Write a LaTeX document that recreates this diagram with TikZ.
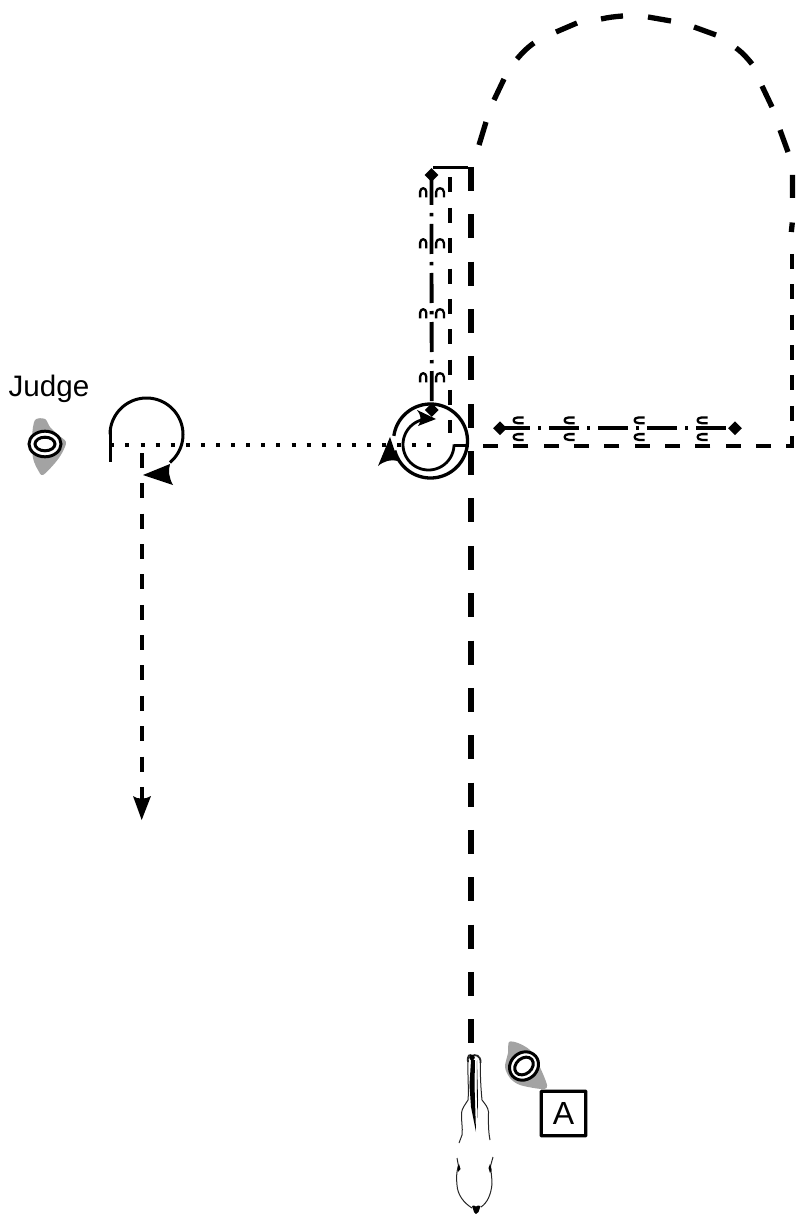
\documentclass[tikz,border=0pt]{standalone}
\usepackage{fontspec}
\setmainfont{Liberation Sans}
\usetikzlibrary{shapes.geometric}
\definecolor{blob}{HTML}{A3A3A3}
\tikzset{
  heavy/.style={line width=5.3pt,dash pattern=on 24pt off 23.35pt},
  arch/.style={line width=5.3pt},
  medium/.style={line width=4pt,dash pattern=on 15pt off 15.35pt},
  dashdot/.style={line width=3.8pt,dash pattern=on 30pt off 8pt on 3.4pt off 7.6pt},
  dotted line/.style={line width=4pt,dash pattern=on 4pt off 11.1pt},
  solidline/.style={line width=3.4pt},
  hoof/.style={draw=none,fill=black,diamond,inner sep=0pt,minimum width=14pt,minimum height=14pt},
  head/.style={fill=black,draw=none},
  hair/.style={line width=1pt,draw=black!85},
  shoe/.style={line width=2.3pt,line cap=butt,line join=round},
}
\newcommand{\shoedown}[3]{\draw[shoe] (#1-#3,#2+5.3) -- (#1-#3,#2) .. controls (#1-#3,#2-5) and (#1+#3,#2-5) .. (#1+#3,#2) -- (#1+#3,#2+5.3);}
\newcommand{\shoeright}[2]{\draw[shoe] (#1+5.5,#2-2.9) -- (#1,#2-2.9) .. controls (#1-6,#2-2.9) and (#1-6,#2+2.9) .. (#1,#2+2.9) -- (#1+5.5,#2+2.9);}
\begin{document}
\begin{tikzpicture}[x=1pt,y=-1pt]
\useasboundingbox (0,0) rectangle (795,1214);

% grey patches
\fill[blob] plot[smooth cycle,tension=0.5] coordinates {(35,420) (45,419) (50,427) (58,435) (66,442) (62,453) (55,463) (43,475) (38,470) (33,458) (32,437)};
\fill[blob] plot[smooth cycle,tension=0.5] coordinates {(509,1042) (518,1043) (530,1050) (538,1063) (547,1085) (542,1089) (520,1085) (510,1078) (505,1067) (508,1053)};
% people
\draw[line width=3pt,fill=white] (45,444) ellipse [x radius=16pt,y radius=12.8pt];
\draw[line width=3pt] (45,444) ellipse [x radius=10pt,y radius=6.8pt];
\draw[line width=3pt,fill=white,rotate around={40:(524,1066)}] (524,1066) ellipse [x radius=15.2pt,y radius=13.4pt];
\draw[line width=3pt,rotate around={40:(524,1066)}] (524,1066) ellipse [x radius=10.2pt,y radius=7.8pt];

\node[anchor=base,font=\fontsize{29.6}{29.6}\selectfont,inner sep=0pt] (judge) at (49,396) {Judge};
\node[draw,line width=3.2pt,minimum width=44.5pt,minimum height=44.5pt,inner sep=0pt,rounded corners=0.5pt,font=\fontsize{32}{32}\selectfont] (boxa) at (563.5,1113.5) {A};

% named points
\coordinate (hvtop) at (471,167);
\coordinate (hvbot) at (471,1043);
\coordinate (medtop) at (792,254);
\coordinate (medcorner) at (792,445.5);
\coordinate (medend) at (470,445.5);
\coordinate (thintop) at (450,177.5);
\coordinate (thinbot) at (450,433);
\coordinate (bartl) at (433,167.7);
\coordinate (bartr) at (468,167.7);
\coordinate (dotl) at (110.3,445.3);
\coordinate (dotr) at (431.5,445.3);
\coordinate (exittop) at (141.7,453);
\coordinate (exitbot) at (141.7,800);
\coordinate (exittip) at (141.7,820);
\coordinate (startl) at (110.5,428);
\coordinate (startlb) at (110.5,462);
\coordinate (join1) at (454,445.3);
\coordinate (join2) at (469,445.3);

\draw[heavy] (hvtop) -- (hvbot);
\draw[medium] (medtop) -- (medcorner) -- (medend);
\draw[medium] (thintop) -- (thinbot);
\draw[solidline] (bartl) -- (bartr);
\draw[dotted line] (dotl) -- (dotr);
\draw[medium] (exittop) -- (exitbot);
\draw[line width=3.8pt] (startl) -- (startlb);
\draw[solidline] (join1) -- (join2);

% arch
\draw[arch,line cap=butt]
  (479,145) -- (486,122)
  (494,100) -- (504,79)
  (517,59) .. controls (522,53) and (528,47) .. (534,43)
  (556,32) -- (577,23)
  (601,19) .. controls (608,17.5) and (615,16.5) .. (623,16)
  (648,17) -- (671,21)
  (694,27) -- (716,35)
  (736,48) .. controls (743,53) and (748,59) .. (752,64)
  (762,86) -- (772,107)
  (780,130) -- (788,152)
  (792.5,175) -- (792.5,198)
  (792.3,222.5) -- (791.3,232);

% dash-dot lines with diamonds
\node[hoof] (dtop) at (431.5,175) {};
\node[hoof] (dbot) at (431.7,410) {};
\node[hoof] (dleft) at (500,428.3) {};
\node[hoof] (dright) at (735,428.3) {};
\draw[dashdot] (dtop.center) -- (dbot.center);
\draw[dashdot] (dleft.center) -- (dright.center);

% horseshoes
\shoedown{423.2}{192}{3.1}\shoedown{440}{192}{3.9}
\shoedown{423.2}{243}{3.1}\shoedown{440}{243}{3.9}
\shoedown{423.2}{313}{3.1}\shoedown{440}{313}{3.9}
\shoedown{423.2}{377}{3.1}\shoedown{440}{377}{3.9}
\shoeright{518}{420.3}\shoeright{518}{437}
\shoeright{569}{420.3}\shoeright{569}{437}
\shoeright{639}{420.3}\shoeright{639}{437}
\shoeright{702}{420.3}\shoeright{702}{437}

% circles
\draw[line width=3.3pt,domain=0:165,samples=60,smooth] plot ({430.5+37*cos(\x)},{441+37*sin(\x)});
\draw[line width=3.3pt,domain=188:360,samples=60,smooth] plot ({430.5+37*cos(\x)},{441+37*sin(\x)});
\draw[line width=2.8pt,domain=0:262,samples=60,smooth] plot ({428.5+25.5*cos(\x)},{444.5+25.5*sin(\x)});
\draw[line width=3pt,domain=-180:50,samples=70,smooth] plot ({146.5+36.5*cos(\x)},{434.5+36.5*sin(\x)});

% arrowheads
\fill[head] (390,437) -- (378,466) .. controls (384,461) and (391,459) .. (398,461) -- cycle;
\fill[head] (436,419) -- (417,410) .. controls (421,415) and (422,420) .. (418,426) -- cycle;
\fill[head] (143,475) -- (170,464) .. controls (168,471) and (169,478) .. (173,485) -- cycle;
\fill[head] (exittip) -- (133,796) .. controls (137,799.5) and (146,799.5) .. (151,796) -- cycle;

% horse
\draw[hair] (468,1062) .. controls (467.5,1075) and (469,1090) .. (468,1100) .. controls (465,1105) and (462,1108) .. (461.5,1113) .. controls (461,1120) and (463,1128) .. (462,1135) -- (459,1143);
\draw[hair] (480.5,1062) .. controls (480,1075) and (481,1090) .. (482,1100) .. controls (485,1104) and (488,1107) .. (488.5,1112) .. controls (488.5,1120) and (488,1130) .. (490,1140);
\draw[hair] (457,1158) -- (458.5,1166) .. controls (456,1172) and (456.5,1180) .. (457,1185) .. controls (457.5,1195) and (464,1203) .. (472,1208);
\draw[hair] (493,1157) -- (490.5,1166) .. controls (491,1172) and (492,1178) .. (492,1184) .. controls (491,1195) and (487,1203) .. (481,1207);
\draw[hair,line width=1.8pt] (468,1062) .. controls (467,1055) and (470,1054) .. (472,1056) .. controls (475,1054) and (481,1055) .. (480.5,1063);
\fill[head] (472,1057.5) circle (2.8pt);
\fill[head] (471,1060) -- (475,1060) -- (474.5,1085) -- (476,1132) -- (471,1107) -- (469.5,1085) -- cycle;
\fill[head] (477,1060) -- (478,1100) -- (477.5,1118) -- (476.8,1090) -- cycle;
\fill[head] (459,1164) -- (460.5,1169) -- (458,1172) -- (457.5,1167) -- cycle;
\fill[head] (490,1164) -- (491.5,1170) -- (490,1173) -- (488.5,1168) -- cycle;
\fill[head] (472,1206) -- (474,1205.5) -- (476,1206.5) -- (478,1205.5) -- (480.5,1206) -- (478.5,1212) -- (476,1214) -- (474,1212) -- cycle;
\end{tikzpicture}
\end{document}
